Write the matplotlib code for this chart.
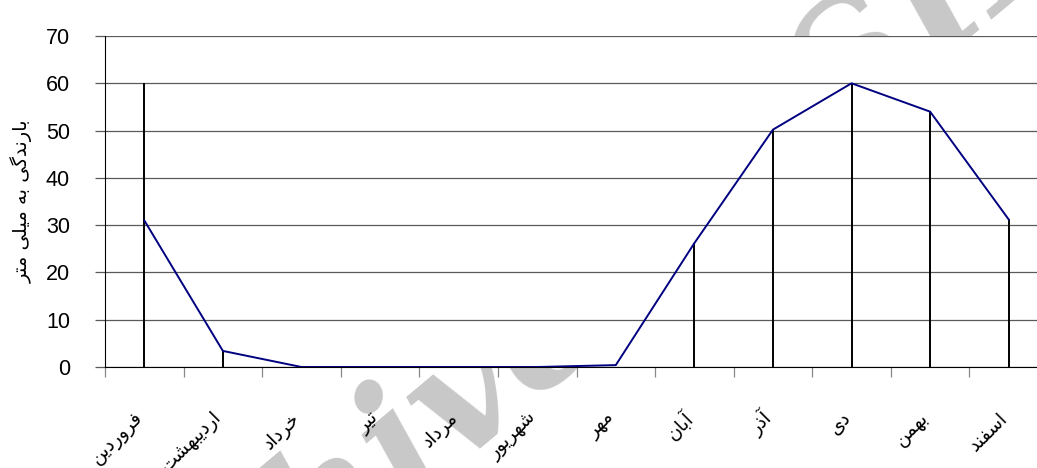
import matplotlib.pyplot as plt
from matplotlib.transforms import ScaledTranslation

# monthly rainfall (mm), Persian calendar months
months = ['فروردین', 'اردیبهشت', 'خرداد', 'تیر', 'مرداد', 'شهریور',
          'مهر', 'آبان', 'آذر', 'دی', 'بهمن', 'اسفند']
rain = [31, 3.4, 0, 0, 0, 0, 0.4, 26.2, 50.2, 60, 54, 31.2]
stems = [60, 3.4, 0, 0, 0, 0, 0, 26.2, 50.2, 60, 54, 31.2]
yticks = [0, 10, 20, 30, 40, 50, 60, 70]
ylabel = 'بارندگی به میلی متر'

# presentation forms: isolated, final, initial, medial
FORMS = {
    'ا': ('\ufe8d', '\ufe8e'),
    'آ': ('\ufe81', '\ufe82'),
    'د': ('\ufea9', '\ufeaa'),
    'ذ': ('\ufeab', '\ufeac'),
    'ر': ('\ufead', '\ufeae'),
    'و': ('\ufeed', '\ufeee'),
    'ب': ('\ufe8f', '\ufe90', '\ufe91', '\ufe92'),
    'ت': ('\ufe95', '\ufe96', '\ufe97', '\ufe98'),
    'خ': ('\ufea5', '\ufea6', '\ufea7', '\ufea8'),
    'س': ('\ufeb1', '\ufeb2', '\ufeb3', '\ufeb4'),
    'ش': ('\ufeb5', '\ufeb6', '\ufeb7', '\ufeb8'),
    'ف': ('\ufed1', '\ufed2', '\ufed3', '\ufed4'),
    'ل': ('\ufedd', '\ufede', '\ufedf', '\ufee0'),
    'م': ('\ufee1', '\ufee2', '\ufee3', '\ufee4'),
    'ن': ('\ufee5', '\ufee6', '\ufee7', '\ufee8'),
    'ه': ('\ufee9', '\ufeea', '\ufeeb', '\ufeec'),
    'ی': ('\ufbfc', '\ufbfd', '\ufbfe', '\ufbff'),
    'گ': ('\ufb92', '\ufb93', '\ufb94', '\ufb95'),
}


def shape(text):
    # matplotlib has no arabic shaping, so pick joined forms by hand
    # and reverse for right-to-left display
    out = []
    for i, ch in enumerate(text):
        f = FORMS.get(ch)
        if f is None:
            out.append(ch)
            continue
        prev = text[i - 1] if i > 0 else ''
        nxt = text[i + 1] if i + 1 < len(text) else ''
        join_prev = len(FORMS.get(prev, ())) == 4
        join_next = len(f) == 4 and nxt in FORMS
        if join_prev and join_next:
            out.append(f[3])
        elif join_prev:
            out.append(f[1])
        elif join_next:
            out.append(f[2])
        else:
            out.append(f[0])
    return ''.join(out)[::-1]


fig = plt.figure(figsize=(10.37, 4.68), dpi=100)
ax = fig.add_axes([105 / 1037, 101 / 468, 943 / 1037, 331 / 468])
ax.set_facecolor('white')

# page watermark, hidden by the white plot area
fig.text(0.543, 0.295, 'Archive of SID', fontsize=120, family='DejaVu Serif',
         weight='bold', style='italic', color='#c8c8c8', rotation=40,
         ha='center', va='center', zorder=-1)

x = list(range(len(months)))
ax.vlines(x, 0, stems, color='black', lw=1.4, zorder=3)
ax.plot(x, rain, color='#000080', lw=1.4, zorder=4)

ax.set_xlim(-0.5, len(months) - 0.5)
ax.set_ylim(0, 70)
ax.set_yticks(yticks)
ax.yaxis.grid(True, color='#5a5a5a', lw=0.9)
ax.set_axisbelow(True)

for s in ['top', 'right']:
    ax.spines[s].set_visible(False)
ax.spines['left'].set_color('black')
ax.spines['bottom'].set_color('black')

ax.tick_params(axis='y', length=7.2, width=0.9, color='#5a5a5a', pad=18,
               labelsize=15.5)
for lab in ax.get_yticklabels():
    lab.set_family('Liberation Sans')

# category boundaries carry the tick marks, centres carry the labels
ax.set_xticks([i - 0.5 for i in range(len(months) + 1)], minor=True)
ax.tick_params(axis='x', which='minor', length=7, width=0.9, color='#888888')
ax.set_xticks(x)
ax.set_xticklabels([shape(m) for m in months], family='DejaVu Sans',
                   fontsize=13.5, rotation=45, ha='right', va='center',
                   rotation_mode='anchor')
ax.tick_params(axis='x', which='major', length=0, pad=0)
shift = ScaledTranslation(-0.04, -0.48, fig.dpi_scale_trans)
for lab in ax.get_xticklabels():
    lab.set_transform(lab.get_transform() + shift)

fig.text(22 / 1037, 1 - 201 / 468, shape(ylabel), family='DejaVu Sans',
         fontsize=14, rotation=90, ha='center', va='center')

fig.savefig('out.png', dpi=100)
